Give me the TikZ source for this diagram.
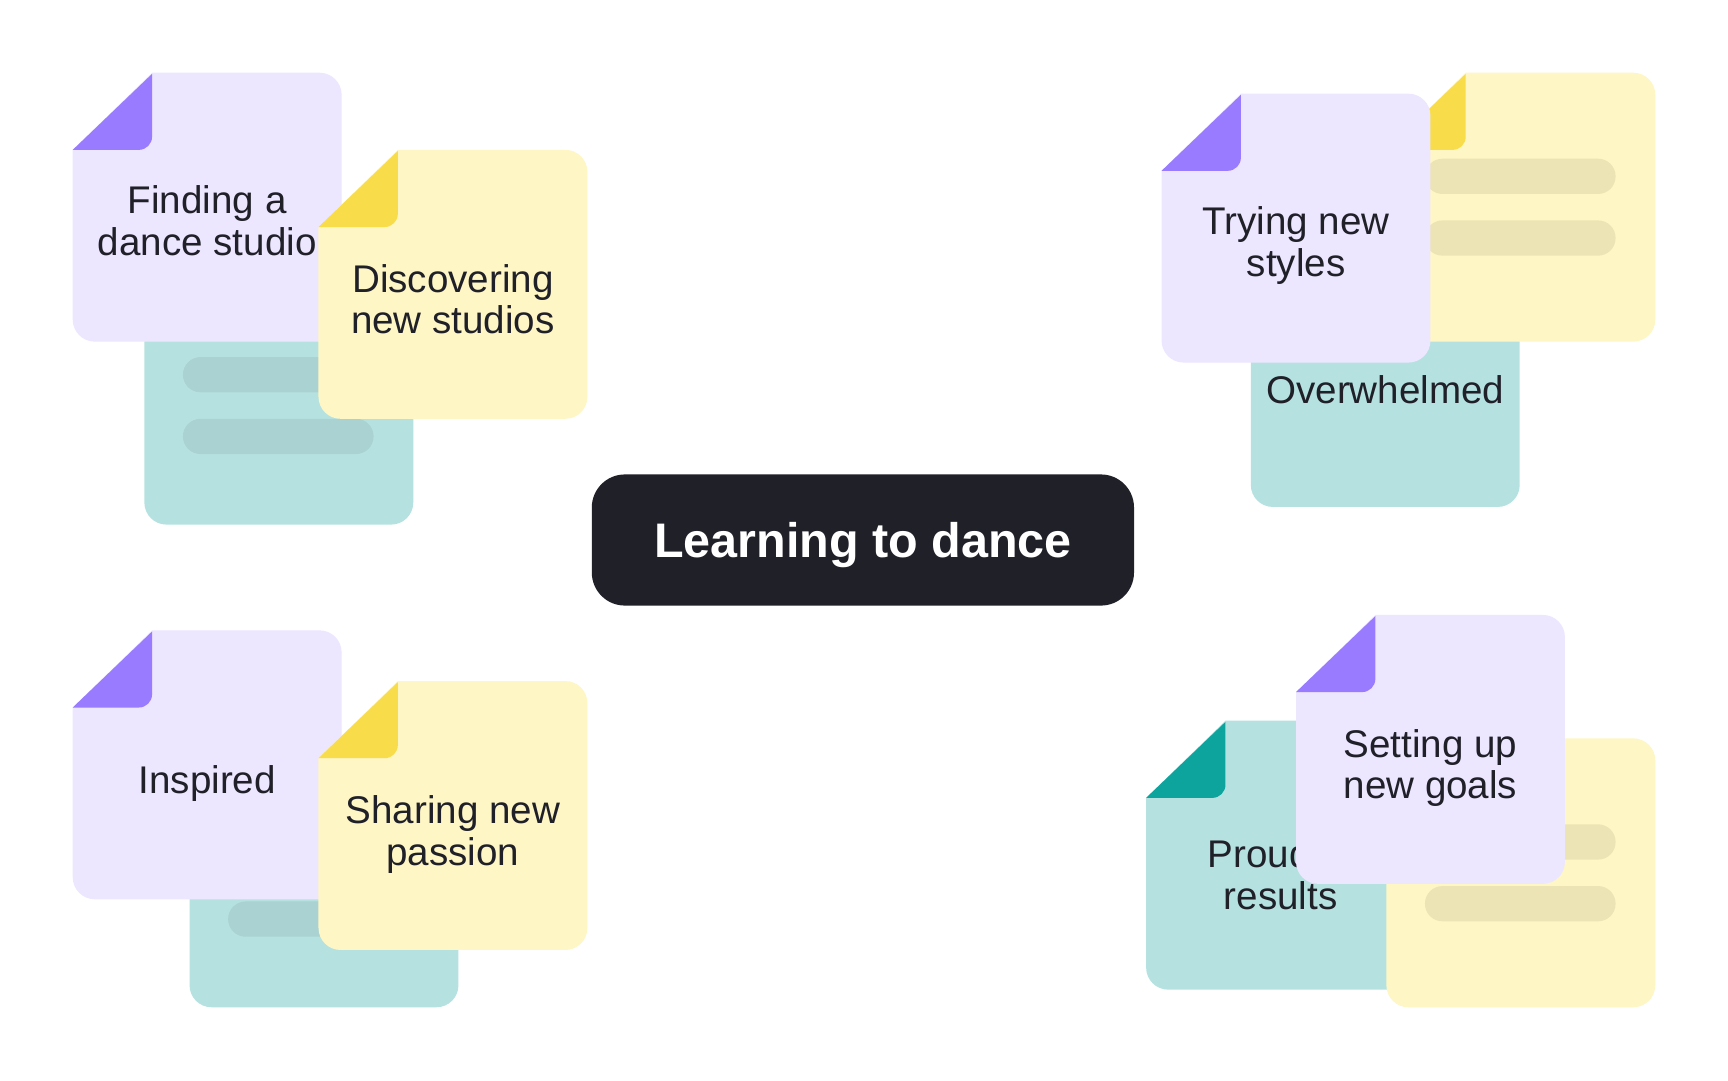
\documentclass[tikz,border=0pt]{standalone}
\usepackage{fontspec}
\setmainfont{Liberation Sans}
\definecolor{purpleL}{RGB}{237,230,255}
\definecolor{purpleD}{RGB}{152,123,255}
\definecolor{yellowL}{RGB}{254,246,196}
\definecolor{yellowD}{RGB}{248,220,74}
\definecolor{yellowB}{RGB}{236,228,180}
\definecolor{tealL}{RGB}{181,226,224}
\definecolor{tealD}{RGB}{13,164,158}
\definecolor{tealB}{RGB}{170,210,210}
\definecolor{ink}{RGB}{32,32,41}
\newcommand\docCard[4]{%
  \fill[#3] ({#1+72},{#2}) -- ({#1+224},{#2}) arc[start angle=-90,end angle=0,radius=20]
    -- ({#1+244},{#2+224}) arc[start angle=0,end angle=90,radius=20]
    -- ({#1+20},{#2+244}) arc[start angle=90,end angle=180,radius=20]
    -- ({#1},{#2+70}) -- cycle;
  \fill[#4] ({#1},{#2+70}) -- ({#1+72},{#2+1}) -- ({#1+72},{#2+58})
    arc[start angle=0,end angle=90,radius=12] -- cycle;
}
\newcommand\cardBars[4]{%
  \fill[#3, rounded corners=15.9] ({#1+35},{#2+#4}) rectangle ({#1+208},{#2+#4+32});
  \fill[#3, rounded corners=15.9] ({#1+35},{#2+#4+56}) rectangle ({#1+208},{#2+#4+88});
}
\begin{document}
\begin{tikzpicture}[x=1pt,y=-1pt,
  cardtext/.style={font=\fontsize{35}{38}\selectfont, text=ink, align=center, anchor=base, inner sep=0pt},
  titlebox/.style={fill=ink, rounded corners=30, minimum width=492, minimum height=119,
    inner sep=0pt, text=white, font=\bfseries\fontsize{44}{50}\selectfont,
    text height=31.5pt, text depth=0pt}]
\useasboundingbox (0,0) rectangle (1568,980);
\fill[white] (0,0) rectangle (1568,980);

% top-left cluster
\docCard{131}{232}{tealL}{tealD}
\cardBars{131}{232}{tealB}{92}
\docCard{66}{66}{purpleL}{purpleD}
\node[cardtext] (finding) at (188,232) {Finding a\\dance studio};
\docCard{289}{136}{yellowL}{yellowD}
\node[cardtext] (discovering) at (411,303) {Discovering\\new studios};

% top-right cluster
\docCard{1135}{216}{tealL}{tealD}
\node[cardtext] (overwhelmed) at (1257,366) {Overwhelmed};
\docCard{1258}{66}{yellowL}{yellowD}
\cardBars{1258}{66}{yellowB}{78}
\docCard{1054}{85}{purpleL}{purpleD}
\node[cardtext] (trying) at (1176,251) {Trying new\\styles};

% bottom-left cluster
\docCard{172}{670}{tealL}{tealD}
\cardBars{172}{670}{tealB}{92}
\docCard{66}{572}{purpleL}{purpleD}
\node[cardtext] (inspired) at (188,720) {Inspired};
\docCard{289}{618}{yellowL}{yellowD}
\node[cardtext] (sharing) at (411,785) {Sharing new\\passion};

% bottom-right cluster
\docCard{1040}{654}{tealL}{tealD}
\node[cardtext] (proud) at (1162,825) {Proud of\\results};
\docCard{1258}{670}{yellowL}{yellowD}
\cardBars{1258}{670}{yellowB}{78}
\docCard{1176}{558}{purpleL}{purpleD}
\node[cardtext] (setting) at (1298,725) {Setting up\\new goals};

% central title
\node[titlebox] (title) at (783,490) {Learning to dance};
\end{tikzpicture}
\end{document}
